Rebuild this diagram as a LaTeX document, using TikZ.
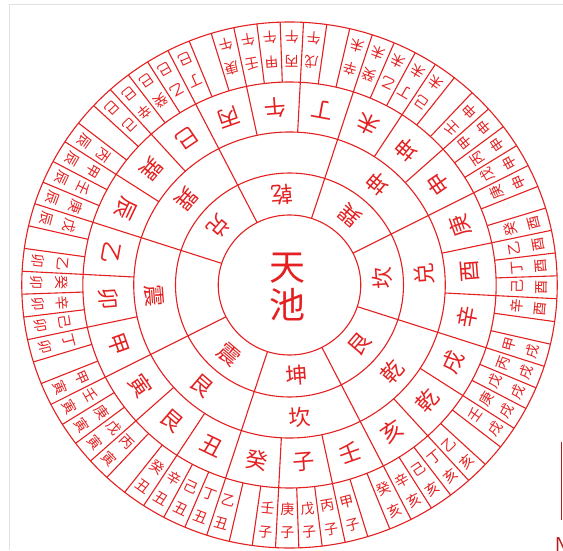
\documentclass[tikz,border=0pt]{standalone}
\usepackage{fontspec}
\newfontfamily\cjk{Noto Sans CJK SC}
\definecolor{lp}{RGB}{228,32,32}
\begin{document}
\begin{tikzpicture}[x=1pt,y=1pt,
  ring/.style={draw=lp,line width=1.1pt},
  big/.style={text=lp,font=\cjk\fontsize{22}{22}\selectfont,inner sep=0pt},
  small/.style={text=lp,font=\cjk\fontsize{14}{14}\selectfont,inner sep=0pt},
  centre/.style={text=lp,font=\cjk\fontsize{36}{36}\selectfont,inner sep=0pt}]
\useasboundingbox (0,0) rectangle (563,550);
\fill[white] (0,0) rectangle (563,550);
\draw[black!12,line width=0.8pt] (9.3,0) -- (9.3,545.7) -- (563,545.7);
\draw[lp!80!black,line width=1.5pt] (561.7,108) -- (561.7,30);
\node[anchor=north west,inner sep=0pt,text=lp!80!black,font=\sffamily\fontsize{20}{20}\selectfont] (nmark) at (555,13) {N};
\begin{scope}[shift={(289.5,265)},xscale=1.018]
\def\d{4.5}
% circles
\foreach \r in {70,112,153,203,263} \draw[ring] (0,0) circle[radius=\r pt];
% radial lines of the two trigram rings
\foreach \i in {0,...,7} \draw[ring] ({90+\d-22.5-45*\i}:70) -- ({90+\d-22.5-45*\i}:153);
% 24 mountains ring
\foreach \i in {0,...,23} \draw[ring] ({90+\d+7.5-15*\i}:153) -- ({90+\d+7.5-15*\i}:203);
% 72 dragons ring
\foreach \i in {0,...,71} \draw[ring] ({90+\d+2.5-5*\i}:203) -- ({90+\d+2.5-5*\i}:263);
% centre
\node[centre] (tian) at (-1.5,17) {天};
\node[centre] (chi) at (-1.5,-20) {池};
% early heaven ring
\foreach \i/\t in {0/乾,1/巽,2/坎,3/艮,4/坤,5/震,7/兑}
  \node[big,rotate={180+\d-45*\i}] (a\i) at ({90+\d-45*\i}:91) {\t};
% later heaven ring
\foreach \i/\t in {1/坤,2/兑,3/乾,4/坎,5/艮,6/震,7/巽}
  \node[big,rotate={180+\d-45*\i}] (b\i) at ({90+\d-45*\i}:133) {\t};
% 24 mountains
\foreach \t [count=\i from 0] in {午,丁,未,坤,申,庚,酉,辛,戌,乾,亥,壬,子,癸,丑,艮,寅,甲,卯,乙,辰,巽,巳,丙}
  \node[big,rotate={180+\d-15*\i}] (m\i) at ({90+\d-15*\i}:178) {\t};
% 60 jiazi
\foreach \br/\st [count=\j from 0] in {午/{庚,壬,甲,丙,戊},未/{辛,癸,乙,丁,己},申/{壬,甲,丙,戊,庚},酉/{癸,乙,丁,己,辛},戌/{甲,丙,戊,庚,壬},亥/{乙,丁,己,辛,癸},子/{甲,丙,戊,庚,壬},丑/{乙,丁,己,辛,癸},寅/{丙,戊,庚,壬,甲},卯/{丁,己,辛,癸,乙},辰/{戊,庚,壬,甲,丙},巳/{己,辛,癸,乙,丁}}
  \foreach \s [count=\k from 0] in \st {
    \pgfmathsetmacro\ang{90+\d-30*\j+10-5*\k}
    \node[small,rotate=\ang+90] (s\j-\k) at (\ang:224) {\s};
    \node[small,rotate=\ang+90] (z\j-\k) at (\ang:248) {\br};
  }
\end{scope}
\end{tikzpicture}
\end{document}
